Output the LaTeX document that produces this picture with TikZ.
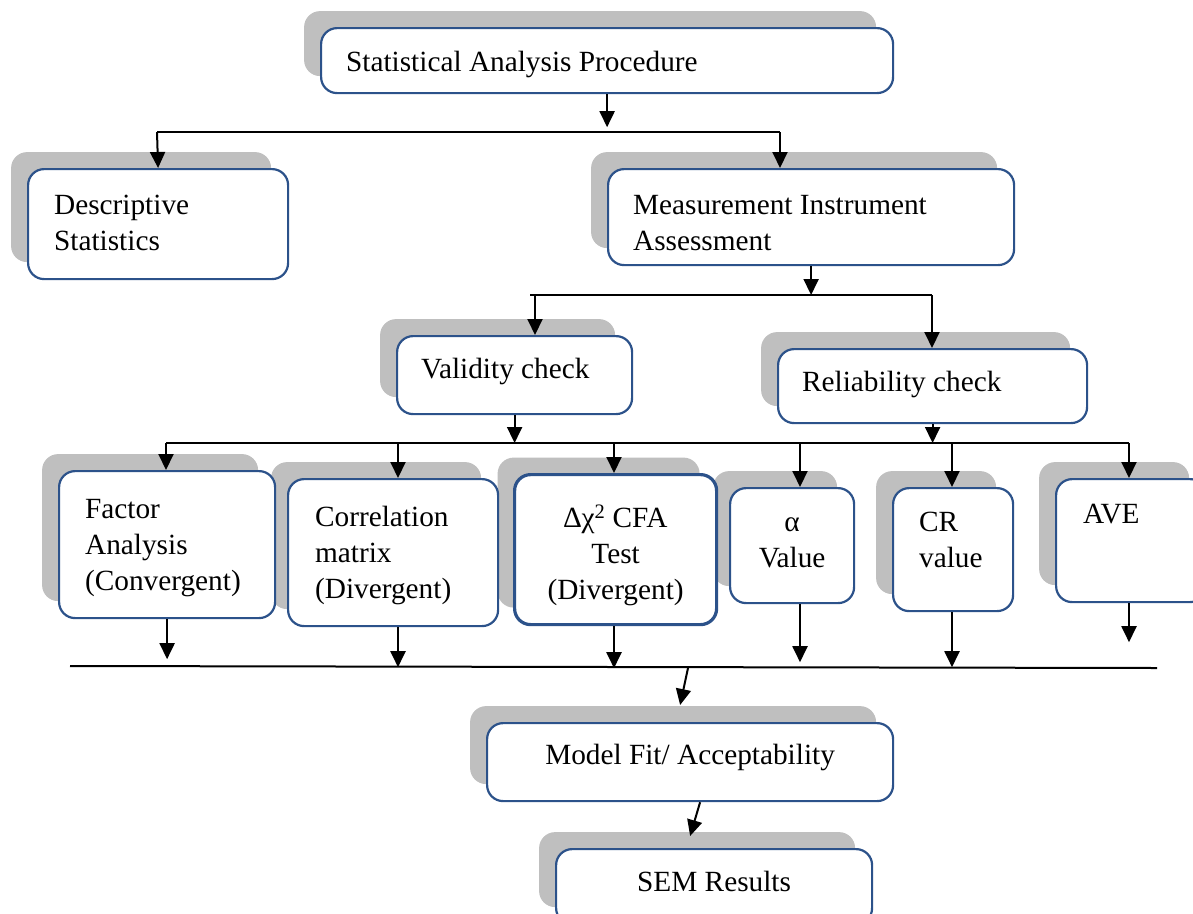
\documentclass[tikz,border=0pt]{standalone}
\usepackage{fontspec}
\setmainfont{Liberation Serif}
\usetikzlibrary{arrows.meta,shadows,calc}

\definecolor{boxblue}{RGB}{44,82,138}
\definecolor{shadowgray}{RGB}{191,191,191}

% box body: width, height, first baseline from top, alignment, text
\newcommand{\cellbox}[5]{\parbox[c][#2][t]{#1}{\vspace*{\dimexpr#3-\ht\strutbox\relax}#4\strut#5}}

\begin{document}
\begin{tikzpicture}[x=1pt,y=-1pt,
  font=\fontsize{29.3}{36}\selectfont,
  box/.style={draw=boxblue, line width=2.2pt, fill=white, rounded corners=16pt,
    anchor=north west, inner ysep=0pt,
    general shadow={fill=shadowgray, shadow xshift=-17pt, shadow yshift=17pt}},
  wire/.style={line width=2pt},
  arr/.style={wire, -{Triangle[length=16pt,width=15pt]}}]

\useasboundingbox (0,0) rectangle (1193,913);

% top levels
\node[box, inner xsep=25pt] (sap) at (320,27)
  {\cellbox{522pt}{65pt}{43pt}{\raggedright}{Statistical Analysis Procedure}};
\node[box, inner xsep=26pt] (desc) at (27,168)
  {\cellbox{208pt}{110pt}{45pt}{\raggedright}{Descriptive\\Statistics}};
\node[box, inner xsep=25pt] (meas) at (607,168)
  {\cellbox{356pt}{96pt}{45pt}{\raggedright}{Measurement Instrument\\Assessment}};
\node[box, inner xsep=24pt] (val) at (396,335)
  {\cellbox{187pt}{78pt}{42pt}{\raggedright}{Validity check}};
\node[box, inner xsep=24pt] (rel) at (777,348)
  {\cellbox{261pt}{74pt}{42pt}{\raggedright}{Reliability check}};

% checks, drawn right to left so each box covers its neighbour's shadow
\node[box, inner xsep=27pt] (ave) at (1055,478)
  {\cellbox{96pt}{123pt}{44pt}{\raggedright}{AVE}};
\node[box, inner xsep=26pt] (cr) at (892,487)
  {\cellbox{68pt}{123pt}{43pt}{\raggedright}{CR\\value}};
\node[box, inner xsep=10pt] (alp) at (729,487)
  {\cellbox{104pt}{115pt}{43pt}{\centering}{α\\Value}};
\node[box, inner xsep=10pt, line width=3.2pt] (del) at (513,473)
  {\cellbox{182pt}{150pt}{53pt}{\centering}{∆χ\textsuperscript{2} CFA\\Test\\(Divergent)}};
\node[box, inner xsep=27pt] (cor) at (287,478)
  {\cellbox{156pt}{147pt}{47pt}{\raggedright}{Correlation\\matrix\\(Divergent)}};
\node[box, inner xsep=26pt] (fac) at (58,470)
  {\cellbox{164pt}{147pt}{47pt}{\raggedright}{Factor\\Analysis\\(Convergent)}};

% results
\node[box, inner xsep=10pt] (mod) at (486,722)
  {\cellbox{386pt}{78pt}{41pt}{\centering}{Model Fit/ Acceptability}};
\node[box, inner xsep=10pt] (sem) at (555,848)
  {\cellbox{296pt}{75pt}{42pt}{\centering}{SEM Results}};

% bus lines
\coordinate (b1l) at (157,132);
\coordinate (b1r) at (780,132);
\coordinate (b2l) at (530,295);
\coordinate (b2r) at (932,295);
\coordinate (vin) at (535,295);
\coordinate (b3l) at (166,443);
\coordinate (b3r) at (1129,443);
\coordinate (t2) at (398,443);
\coordinate (t3) at (614,443);
\coordinate (t4) at (800,443);
\coordinate (t5) at (952,443);
\coordinate (b4l) at (70,666);
\coordinate (b4r) at (1157,668);
\coordinate (min) at (688,668);

% first split
\draw[arr] (sap.south) -- ++(0,33);
\draw[wire] (b1l) -- (b1r);
\draw[arr] (b1l) -- (desc.north);
\draw[arr] (b1r) -- (b1r |- meas.north);

% second split
\draw[arr] (meas.south) -- (meas.south |- b2l);
\draw[wire] (b2l) -- (b2r);
\draw[arr] (vin) -- (vin |- val.north);
\draw[arr] (b2r) -- (b2r |- rel.north);

% third split
\draw[arr] (val.south) -- (val.south |- b3l);
\draw[arr] (rel.south) -- (rel.south |- b3l);
\draw[wire] (b3l) -- (b3r);
\draw[arr] (b3l) -- (b3l |- fac.north);
\draw[arr] (t2) -- (t2 |- cor.north);
\draw[arr] (t3) -- (t3 |- del.north);
\draw[arr] (t4) -- (t4 |- alp.north);
\draw[arr] (t5) -- (t5 |- cr.north);
\draw[arr] (b3r) -- (b3r |- ave.north);

% outputs of the checks
\draw[arr] (fac.south) -- ++(0,40);
\draw[arr] (cor.south -| t2) -- ++(0,40);
\draw[arr] (del.south -| t3) -- ++(0,42);
\draw[arr] (alp.south -| t4) -- ++(0,58);
\draw[arr] (cr.south -| t5) -- ++(0,55);
\draw[arr] (ave.south -| b3r) -- ++(0,39);
\draw[wire] (b4l) -- (b4r);

% final steps
\draw[arr] (min) -- ($(mod.north)+(-10,-17)$);
\draw[arr] ($(mod.south)+(10,0)$) -- ($(sem.north)+(-24,-12)$);

\end{tikzpicture}
\end{document}
